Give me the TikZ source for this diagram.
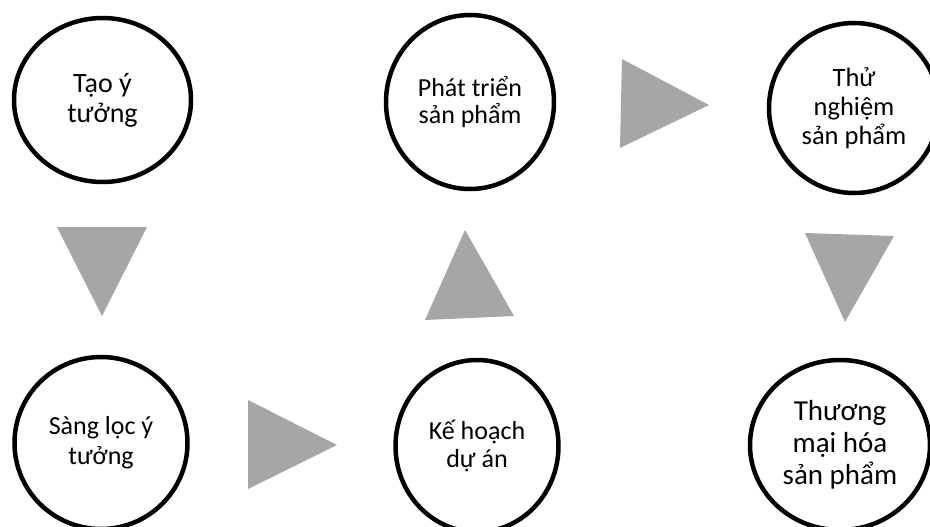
\documentclass[tikz,border=0pt]{standalone}
\usepackage{fontspec}
\setmainfont{Carlito}
\usetikzlibrary{shapes.geometric}
\definecolor{pointergray}{HTML}{A6A6A6}
\tikzset{
  stage/.style={ellipse, draw=black, line width=4.5pt, fill=white,
    align=center, inner sep=0pt, text=black},
  pointer/.style={fill=pointergray, draw=none}
}
\begin{document}
\begin{tikzpicture}[x=1pt,y=-1pt]
  \useasboundingbox (0,0) rectangle (930,527);
  \clip (0,0) rectangle (930,527);
  \fill[white] (0,0) rectangle (930,527);

  % stages
  \node[stage, minimum width=177pt, minimum height=164pt,
        font=\fontsize{28}{30}\selectfont] (idea) at (102.5,100) {Tạo ý\\tưởng};
  \node[stage, minimum width=168pt, minimum height=174pt,
        font=\fontsize{26}{27}\selectfont] (dev) at (470,102) {Phát triển\\sản phẩm};
  \node[stage, minimum width=170pt, minimum height=170pt,
        font=\fontsize{26.5}{29}\selectfont] (test) at (854,108) {Thử\\nghiệm\\sản phẩm};
  \node[stage, minimum width=173pt, minimum height=172pt,
        font=\fontsize{26}{30}\selectfont] (screen) at (101,443) {Sàng lọc ý\\tưởng};
  \node[stage, minimum width=163pt, minimum height=172pt,
        font=\fontsize{26}{28}\selectfont] (plan) at (477,446) {Kế hoạch\\dự án};
  \node[stage, minimum width=180pt, minimum height=170pt,
        font=\fontsize{29}{32}\selectfont] (market) at (840,445) {Thương\\mại hóa\\sản phẩm};

  % direction pointers
  \fill[pointer] (57,227) -- (147,227) -- (102,316) -- cycle;
  \fill[pointer] (248,400) -- (248,489) -- (337,445) -- cycle;
  \fill[pointer] (465,230) -- (514,316) -- (425,320) -- cycle;
  \fill[pointer] (622,59) -- (709,105) -- (620,148) -- cycle;
  \fill[pointer] (805,233) -- (894,236) -- (845,322) -- cycle;
\end{tikzpicture}
\end{document}
